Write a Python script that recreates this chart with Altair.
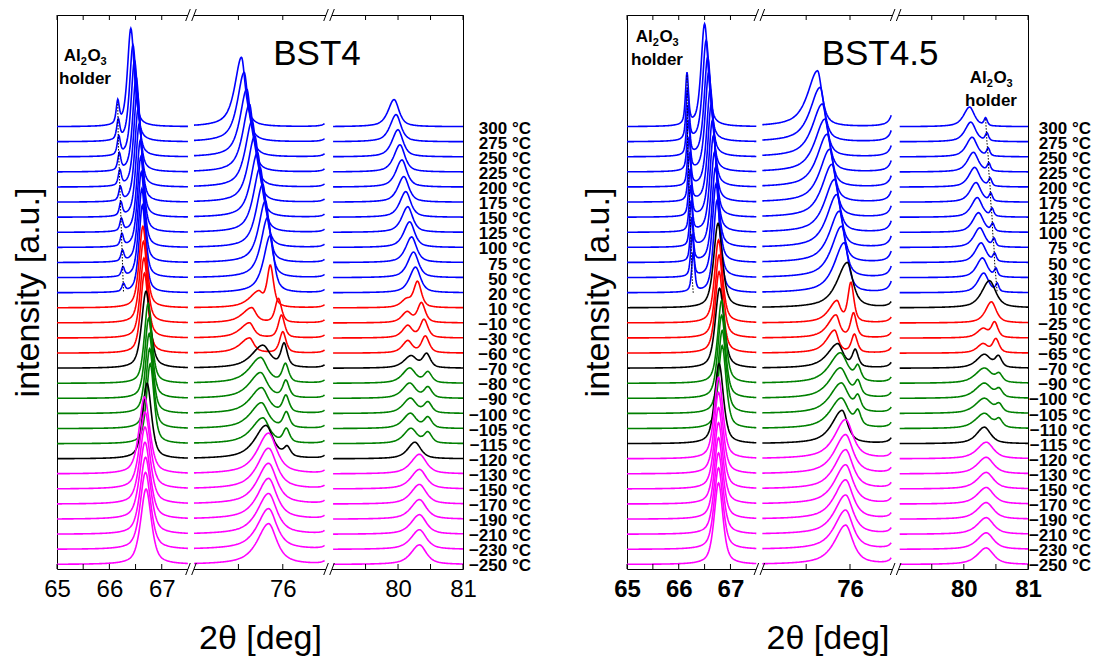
import numpy as np
import pandas as pd
import altair as alt

FONT = "Liberation Sans"

# ---------------- broken x axis: three 2-theta windows ----------------
SEG_LO = [65.0, 74.0, 79.0]
SEG_HI = [67.5, 76.95, 81.0]
SEG_F0 = [0.0, 0.3375, 0.68]     # share of the panel width where each window starts
SEG_F1 = [0.3225, 0.66, 1.0]
SEG_STEP = [0.01, 0.015, 0.01]

TICKS_MAJOR = [65, 66, 67, 76, 80, 81]
TICKS_MINOR = [65.5, 66.5, 75, 79.5, 80.5]

COLOR_KEYS = ["B", "R", "K", "G", "M"]
COLOR_HEX = ["#0000ff", "#ff0000", "#000000", "#008000", "#ff00ff"]

# ---------------- BST4 (left) ----------------
L_TEMPS = [300, 275, 250, 225, 200, 175, 150, 125, 100, 75, 50, 20, 10, -10, -30, -60,
           -70, -80, -90, -100, -105, -115, -120, -130, -150, -170, -190, -210, -230, -250]
L_GROUP = list("BBBBBBBBBBBBRRRRKGGGGGKMMMMMMM")

L_AL1_POS = [66.16, 66.17, 66.18, 66.19, 66.20, 66.21, 66.22, 66.23, 66.24, 66.25, 66.26, 66.27]
L_AL1_H = [1.5, 1.3, 1.2, 1.1, 1.0, 0.9, 0.9, 0.8, 0.8, 0.7, 0.6, 0.5]

L1_POS = [66.41, 66.45, 66.48, 66.51, 66.53, 66.55, 66.57, 66.59, 66.60, 66.61, 66.62, 66.63,
          66.64, 66.65, 66.66, 66.67, 66.70, 66.74, 66.75, 66.76, 66.77, 66.78, 66.72,
          66.67, 66.68, 66.68, 66.68, 66.69, 66.69, 66.70]
L1_H = [6.5, 6.4, 6.4, 6.3, 6.3, 6.2, 6.2, 6.1, 6.0, 6.0, 5.9, 5.8,
        5.4, 5.4, 5.3, 5.3, 5.1, 5.3, 5.3, 5.3, 5.3, 5.3, 5.0,
        5.1, 5.1, 5.1, 5.1, 5.1, 5.1, 5.0]
L1_HW = {"B": 0.075, "R": 0.085, "K": 0.10, "G": 0.085, "M": 0.12}

L2A_POS = [75.07, 75.13, 75.19, 75.25, 75.31, 75.37, 75.43, 75.49, 75.55, 75.61, 75.66, 75.72,
           75.45, 75.30, 75.25, 75.25, 75.55, 75.50, 75.50, 75.52, 75.52, 75.55, 75.62,
           75.68, 75.68, 75.68, 75.68, 75.68, 75.68, 75.68]
L2A_H = [4.6, 4.6, 4.5, 4.5, 4.4, 4.4, 4.3, 4.3, 4.2, 4.1, 4.0, 3.8,
         1.0, 1.0, 1.0, 1.0, 1.5, 1.7, 1.7, 1.7, 1.7, 1.7, 2.2,
         2.7, 2.7, 2.7, 2.7, 2.7, 2.7, 2.7]
L2A_WL = {"B": 0.18, "R": 0.25, "K": 0.30, "G": 0.30, "M": 0.30}
L2A_WR = {"B": 0.10, "R": 0.12, "K": 0.20, "G": 0.18, "M": 0.22}
L2B_POS = [None] * 12 + [75.72, 75.90, 75.97, 76.00, 76.03, 76.06, 76.07, 76.07, 76.08, 76.08, 76.10] + [None] * 7
L2B_H = [0] * 12 + [2.7, 1.6, 1.5, 1.4, 1.5, 1.2, 1.1, 1.1, 1.0, 0.9, 0.6] + [0] * 7
L2_EDGE_H = [0.8] * 30

L3A_POS = [79.94, 79.97, 80.00, 80.03, 80.06, 80.09, 80.12, 80.15, 80.18, 80.21, 80.24, 80.27,
           80.13, 80.14, 80.15, 80.15, 80.20, 80.18, 80.18, 80.19, 80.19, 80.20, 80.26,
           80.33, 80.33, 80.33, 80.33, 80.33, 80.33, 80.33]
L3A_H = [1.8, 1.8, 1.8, 1.8, 1.8, 1.7, 1.7, 1.7, 1.7, 1.7, 1.7, 1.7,
         0.5, 0.7, 0.8, 0.8, 0.8, 1.0, 1.0, 1.0, 1.0, 1.0, 1.1,
         1.3, 1.3, 1.3, 1.3, 1.3, 1.3, 1.3]
L3A_W = {"B": 0.10, "R": 0.09, "K": 0.12, "G": 0.12, "M": 0.14}
L3B_POS = [None] * 12 + [80.30, 80.36, 80.40, 80.42, 80.44, 80.46, 80.46, 80.46, 80.46, 80.46] + [None] * 8
L3B_H = [0] * 12 + [1.7, 1.3, 1.2, 1.1, 0.9, 0.7, 0.7, 0.7, 0.7, 0.7] + [0] * 8

# ---------------- BST4.5 (right) ----------------
R_TEMPS = [300, 275, 250, 225, 200, 175, 125, 100, 75, 50, 30, 15, 10, -25, -50, -65,
           -70, -90, -100, -105, -110, -115, -120, -130, -150, -170, -190, -210, -230, -250]
R_GROUP = list("BBBBBBBBBBBBKRRRKGGGGKMMMMMMMM")

R_AL1_POS = [66.16, 66.17, 66.18, 66.19, 66.20, 66.21, 66.22, 66.23, 66.24, 66.25, 66.26, 66.28]
R_AL1_H = [3.4, 3.4, 3.3, 3.3, 3.2, 3.2, 3.1, 3.0, 3.0, 2.9, 2.8, 2.6]

R1_POS = [66.50, 66.53, 66.56, 66.58, 66.61, 66.63, 66.65, 66.67, 66.69, 66.71, 66.72, 66.74,
          66.76, 66.77, 66.78, 66.78, 66.79, 66.83, 66.83, 66.84, 66.84, 66.78,
          66.77, 66.77, 66.77, 66.77, 66.77, 66.77, 66.77, 66.77]
R1_H = [6.8, 6.7, 6.6, 6.6, 6.5, 6.5, 6.4, 6.4, 6.3, 6.3, 6.2, 6.1,
        5.6, 5.5, 5.5, 5.4, 5.3, 5.5, 5.5, 5.5, 5.5, 5.3,
        5.4, 5.4, 5.4, 5.4, 5.4, 5.4, 5.4, 5.4]
R1_HW = {"B": 0.08, "R": 0.09, "K": 0.10, "G": 0.09, "M": 0.10}

R2A_POS = [75.26, 75.32, 75.37, 75.43, 75.48, 75.54, 75.59, 75.65, 75.70, 75.76, 75.81, 75.87,
           75.94, 75.70, 75.68, 75.65, 75.72, 75.78, 75.78, 75.80, 75.80, 75.82,
           75.90, 75.90, 75.90, 75.90, 75.90, 75.90, 75.90, 75.90]
R2A_H = [3.7, 3.6, 3.5, 3.5, 3.5, 3.5, 3.5, 3.5, 3.5, 3.4, 3.4, 3.3,
         3.0, 1.4, 1.5, 1.5, 1.6, 2.0, 2.0, 2.0, 2.0, 2.2,
         2.6, 2.6, 2.6, 2.6, 2.6, 2.6, 2.6, 2.6]
R2A_WL = {"B": 0.27, "R": 0.22, "K": 0.28, "G": 0.30, "M": 0.30}
R2A_WR = {"B": 0.12, "R": 0.10, "K": 0.15, "G": 0.20, "M": 0.20}
R2B_POS = [None] * 13 + [76.02, 76.08, 76.10, 76.12, 76.18, 76.18, 76.18, 76.18] + [None] * 9
R2B_H = [0] * 13 + [2.6, 1.6, 1.2, 1.1, 0.9, 0.9, 0.9, 0.9] + [0] * 9
R2_EDGE_H = [3.0] * 12 + [1.5] * 18

R_AL3_POS = [80.34, 80.36, 80.38, 80.39, 80.41, 80.42, 80.44, 80.45, 80.47, 80.48, 80.50, 80.52]
R_AL3_H = [0.5, 0.5, 0.5, 0.5, 0.5, 0.5, 0.5, 0.5, 0.5, 0.5, 0.5, 0.5]
R3A_POS = [80.09, 80.11, 80.13, 80.15, 80.17, 80.19, 80.21, 80.23, 80.25, 80.27, 80.29, 80.31,
           80.40, 80.43, 80.30, 80.30, 80.32, 80.32, 80.32, 80.32, 80.32, 80.32,
           80.35, 80.35, 80.35, 80.35, 80.35, 80.35, 80.35, 80.35]
R3A_H = [1.3, 1.3, 1.3, 1.3, 1.3, 1.3, 1.3, 1.3, 1.3, 1.3, 1.3, 1.3,
         1.8, 1.4, 0.6, 0.6, 0.9, 1.0, 1.0, 1.0, 1.0, 1.1,
         1.1, 1.1, 1.1, 1.1, 1.1, 1.1, 1.1, 1.1]
R3A_W = {"B": 0.10, "R": 0.10, "K": 0.13, "G": 0.15, "M": 0.15}
R3B_POS = [None] * 14 + [80.48, 80.50, 80.54, 80.55, 80.55, 80.55, 80.55] + [None] * 9
R3B_H = [0] * 14 + [1.0, 0.9, 0.7, 0.5, 0.5, 0.5, 0.5] + [0] * 9

N = 30
Y0, Y1 = -0.3, 36.4
PLOT_H = 554


def prof(x, c, h, wl, wr, eta=0.7):
    w = np.where(x < c, wl, wr)
    t = (x - c) / w
    return h * (eta / (1 + t * t) + (1 - eta) * np.exp(-np.log(2) * t * t))


def to_u(theta, s, W):
    return W * (SEG_F0[s] + (theta - SEG_LO[s]) / (SEG_HI[s] - SEG_LO[s]) * (SEG_F1[s] - SEG_F0[s]))


def seg_of(theta):
    for s in range(3):
        if SEG_LO[s] - 1e-9 <= theta <= SEG_HI[s] + 1e-9:
            return s
    return 0


def build(W, groups, peaks):
    frames = []
    for i in range(N):
        off = N - 1 - i
        for s in range(3):
            th = np.arange(SEG_LO[s], SEG_HI[s] + 1e-9, SEG_STEP[s])
            yv = np.zeros_like(th)
            for (c, h, wl, wr, eta) in peaks[s][i]:
                if c is not None and h > 0:
                    yv += prof(th, c, h, wl, wr, eta)
            frames.append(pd.DataFrame({
                "u": np.round(to_u(th, s, W), 2),
                "y": np.round(off + yv, 3),
                "k": i * 3 + s,
                "g": groups[i],
            }))
    return pd.concat(frames, ignore_index=True)


def left_peaks():
    p = [[[] for _ in range(N)] for _ in range(3)]
    for i in range(N):
        g = L_GROUP[i]
        if i < len(L_AL1_POS):
            p[0][i].append((L_AL1_POS[i], L_AL1_H[i], 0.035, 0.035, 0.6))
        p[0][i].append((L1_POS[i], L1_H[i], L1_HW[g], L1_HW[g], 0.6))
        p[1][i].append((L2A_POS[i], L2A_H[i], L2A_WL[g], L2A_WR[g], 0.8))
        p[1][i].append((L2B_POS[i], L2B_H[i], 0.085, 0.085, 0.6))
        p[1][i].append((77.1, L2_EDGE_H[i], 0.1, 0.1, 0.7))
        p[2][i].append((L3A_POS[i], L3A_H[i], L3A_W[g] * 1.1, L3A_W[g] * 0.9, 0.7))
        p[2][i].append((L3B_POS[i], L3B_H[i], 0.07, 0.07, 0.6))
    return p


def right_peaks():
    p = [[[] for _ in range(N)] for _ in range(3)]
    for i in range(N):
        g = R_GROUP[i]
        if i < len(R_AL1_POS):
            p[0][i].append((R_AL1_POS[i], R_AL1_H[i], 0.035, 0.035, 0.6))
            p[2][i].append((R_AL3_POS[i], R_AL3_H[i], 0.03, 0.03, 0.6))
        p[0][i].append((R1_POS[i], R1_H[i], R1_HW[g], R1_HW[g], 0.6))
        p[1][i].append((R2A_POS[i], R2A_H[i], R2A_WL[g], R2A_WR[g], 0.8))
        p[1][i].append((R2B_POS[i], R2B_H[i], 0.08, 0.08, 0.6))
        p[1][i].append((77.1, R2_EDGE_H[i], 0.1, 0.1, 0.7))
        p[2][i].append((R3A_POS[i], R3A_H[i], R3A_W[g] * 1.1, R3A_W[g] * 0.9, 0.7))
        p[2][i].append((R3B_POS[i], R3B_H[i], 0.06, 0.06, 0.6))
    return p


def temp_label(t):
    return ("\u2212" + str(-t) if t < 0 else str(t)) + " \u00b0C"


def txt(s, x, y, size, weight="bold", align="left"):
    return alt.Chart(pd.DataFrame({"t": [s]})).mark_text(
        align=align, baseline="alphabetic", font=FONT, fontSize=size, fontWeight=weight,
        color="black").encode(x=alt.value(x), y=alt.value(y), text="t:N")


def al2o3_note(cx, by):
    # "Al2O3" with real lowered subscripts, "holder" on the next line
    big, small = 17, 11
    w_al, w_o, w_d = 0.722 * big + 0.278 * big, 0.778 * big, 0.556 * small
    x0 = cx - (w_al + w_o + 2 * w_d) / 2
    return [
        txt("Al", x0, by, big),
        txt("2", x0 + w_al, by + 4, small),
        txt("O", x0 + w_al + w_d + 0.5, by, big),
        txt("3", x0 + w_al + w_d + 0.5 + w_o, by + 4, small),
        txt("holder", cx, by + 23, big, align="center"),
    ]


def panel(W, temps, groups, peaks, dot_sets, title, title_x, notes,
          bold_ticks, lab_size, lab_dx):
    df = build(W, groups, peaks)
    xs = alt.Scale(domain=[0, W], nice=False, zero=False)
    ys = alt.Scale(domain=[Y0, Y1], nice=False, zero=False)

    major_u = [to_u(t, seg_of(t), W) for t in TICKS_MAJOR]
    expr = " : ".join(
        f"abs(datum.value - {u:.3f}) < 0.5 ? '{t}'" for t, u in zip(TICKS_MAJOR, major_u)
    ) + " : ''"

    x_bottom = alt.Axis(orient="bottom", values=major_u, labelExpr=expr, ticks=False, tickSize=0,
                        grid=False, domain=True, domainColor="black", domainWidth=1,
                        labelFont=FONT, labelFontSize=24,
                        labelFontWeight="bold" if bold_ticks else "normal",
                        labelColor="black", labelPadding=8, labelOverlap=False,
                        labelFlush=False, labelBound=False,
                        title="2\u03b8 [deg]", titleFont=FONT, titleFontSize=34,
                        titleFontWeight="normal", titleColor="black", titlePadding=20, zindex=0)
    x_top = alt.Axis(orient="top", labels=False, ticks=False, tickSize=0, grid=False,
                     domainColor="black", domainWidth=1, title=None, zindex=0)
    y_left = alt.Axis(orient="left", labels=False, ticks=False, tickSize=0, grid=False,
                      domainColor="black", domainWidth=1, title="intensity [a.u.]",
                      titleFont=FONT, titleFontSize=34, titleFontWeight="normal",
                      titleColor="black", titlePadding=12, zindex=0)
    y_right = alt.Axis(orient="right", labels=False, ticks=False, tickSize=0, grid=False,
                       domainColor="black", domainWidth=1, title=None, zindex=0)

    curves = alt.Chart(df).mark_line(strokeWidth=1.6, clip=True).encode(
        x=alt.X("u:Q", scale=xs, axis=x_bottom),
        y=alt.Y("y:Q", scale=ys, axis=y_left),
        detail="k:N",
        color=alt.Color("g:N", scale=alt.Scale(domain=COLOR_KEYS, range=COLOR_HEX), legend=None),
    )

    tick_th = TICKS_MAJOR + TICKS_MINOR
    tick_df = pd.DataFrame({"u": [to_u(t, seg_of(t), W) for t in tick_th]})
    ticks_bottom = alt.Chart(tick_df).mark_rule(color="black", strokeWidth=1).encode(
        x=alt.X("u:Q", scale=xs, axis=None), y=alt.value(PLOT_H - 5), y2=alt.value(PLOT_H))
    ticks_top = alt.Chart(tick_df).mark_rule(color="black", strokeWidth=1).encode(
        x=alt.X("u:Q", scale=xs, axis=x_top), y=alt.value(0), y2=alt.value(5))

    # axis breaks between the windows
    centers = [W * (SEG_F1[0] + SEG_F0[1]) / 2, W * (SEG_F1[1] + SEG_F0[2]) / 2]
    blank_df = pd.DataFrame({"a": [c - 3 for c in centers], "b": [c + 3 for c in centers]})
    slash_df = pd.DataFrame({
        "a": [c + d - 2.3 for c in centers for d in (-3, 3)],
        "b": [c + d + 2.3 for c in centers for d in (-3, 3)],
    })
    breaks = []
    for y0 in (0, PLOT_H):
        breaks.append(alt.Chart(blank_df).mark_rule(color="white", strokeWidth=3).encode(
            x=alt.X("a:Q", scale=xs, axis=None), x2="b:Q", y=alt.value(y0)))
        breaks.append(alt.Chart(slash_df).mark_rule(color="black", strokeWidth=1).encode(
            x=alt.X("a:Q", scale=xs, axis=None), x2="b:Q",
            y=alt.value(y0 + 6), y2=alt.value(y0 - 6)))

    # dotted guide lines through the Al2O3 reflections
    dots = []
    for (pos, hts, s) in dot_sets:
        ddf = pd.DataFrame({
            "u": [to_u(p, s, W) for p in pos],
            "y": [N - 1 - j + (hts[j] if j == 0 else 0.0) for j in range(len(pos))],
            "o": list(range(len(pos))),
        })
        dots.append(alt.Chart(ddf).mark_line(color="black", strokeWidth=1, strokeDash=[1.5, 1.5]).encode(
            x=alt.X("u:Q", scale=xs, axis=None), y=alt.Y("y:Q", scale=ys, axis=None), order="o:Q"))

    tdf = pd.DataFrame({"off": [N - 1 - i for i in range(N)], "lab": [temp_label(t) for t in temps]})
    temps_txt = alt.Chart(tdf).mark_text(align="right", baseline="middle", font=FONT,
                                         fontSize=lab_size, fontWeight="bold", color="black", dy=2).encode(
        x=alt.value(W + lab_dx), y=alt.Y("off:Q", scale=ys, axis=y_right), text="lab:N")

    title_txt = txt(title, title_x, 50, 35, weight="normal", align="center")

    note_layers = []
    for (nx, ny) in notes:
        note_layers += al2o3_note(nx, ny)

    layers = [curves, ticks_bottom, ticks_top] + breaks + dots + [temps_txt, title_txt] + note_layers
    return alt.layer(*layers).resolve_axis(x="independent", y="independent").properties(
        width=W, height=PLOT_H)


WL, WR = 406, 401
left = panel(WL, L_TEMPS, L_GROUP, left_peaks(),
             [(L_AL1_POS, L_AL1_H, 0)], "BST4", 260, [(28, 46)], False, 17, 68)
right = panel(WR, R_TEMPS, R_GROUP, right_peaks(),
              [(R_AL1_POS, R_AL1_H, 0), (R_AL3_POS, R_AL3_H, 2)], "BST4.5", 253,
              [(30, 27), (364, 68)], True, 17, 63)

chart = alt.hconcat(left, right, spacing=48).properties(
    padding={"left": 10, "top": 8, "right": 0, "bottom": 0},
    background="white",
).configure_view(stroke=None).configure(font=FONT)

chart.save("out.html", embed_options={"renderer": "svg", "actions": False})
